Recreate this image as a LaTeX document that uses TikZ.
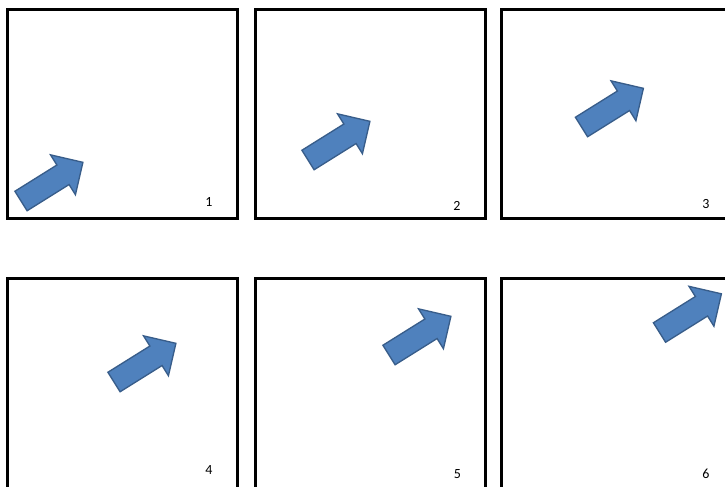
\documentclass[tikz,border=0pt]{standalone}
\usepackage{fontspec}
\setmainfont{Carlito}
\usepackage{tikz}
\usetikzlibrary{arrows.meta, positioning}
\usepackage{xcolor}
\definecolor{arrowblue}{RGB}{79, 129, 189}
\definecolor{arrowedge}{RGB}{56, 93, 138}

\tikzset{
    pics/movearrow/.style={code={
        \filldraw[fill=arrowblue, draw=arrowedge, line width=1pt, line join=miter]
            (0,-11.5) -- (49.5,-11.5) -- (49.5,-23.5) -- (73,0) -- (49.5,23.5) -- (49.5,11.5) -- (0,11.5) -- cycle;
    }}
}

\begin{document}
\begin{tikzpicture}[x=0.75pt, y=-0.75pt,
    panel/.style={draw=black, line width=2.25pt},
    framenum/.style={font=\fontsize{10.5}{12}\selectfont, inner sep=0pt}]
    \clip (0,0) rectangle (725,486);
    \fill[white] (0,0) rectangle (725,486);

    % Frames, top row
    \draw[panel] (7,9) rectangle (237,218.5);
    \draw[panel] (255.5,9) rectangle (485.5,218.5);
    \draw[panel] (501,9) rectangle (731,218.5);
    % Frames, bottom row
    \draw[panel] (7,278.5) rectangle (237,488.5);
    \draw[panel] (255.5,278.5) rectangle (485.5,488.5);
    \draw[panel] (501,278.5) rectangle (731,488.5);

    % Moving arrow
    \pic[rotate=32] at (21,201) {movearrow};
    \pic[rotate=32] at (308,160) {movearrow};
    \pic[rotate=32] at (581.5,127) {movearrow};
    \pic[rotate=32] at (114,382) {movearrow};
    \pic[rotate=32] at (389,355) {movearrow};
    \pic[rotate=32] at (659.5,332.5) {movearrow};

    % Frame numbers
    \node[framenum] (num1) at (209,201.5) {1};
    \node[framenum] (num2) at (457,206) {2};
    \node[framenum] (num3) at (706,204.5) {3};
    \node[framenum] (num4) at (209,470) {4};
    \node[framenum] (num5) at (457.5,474) {5};
    \node[framenum] (num6) at (706,473.5) {6};
\end{tikzpicture}
\end{document}
